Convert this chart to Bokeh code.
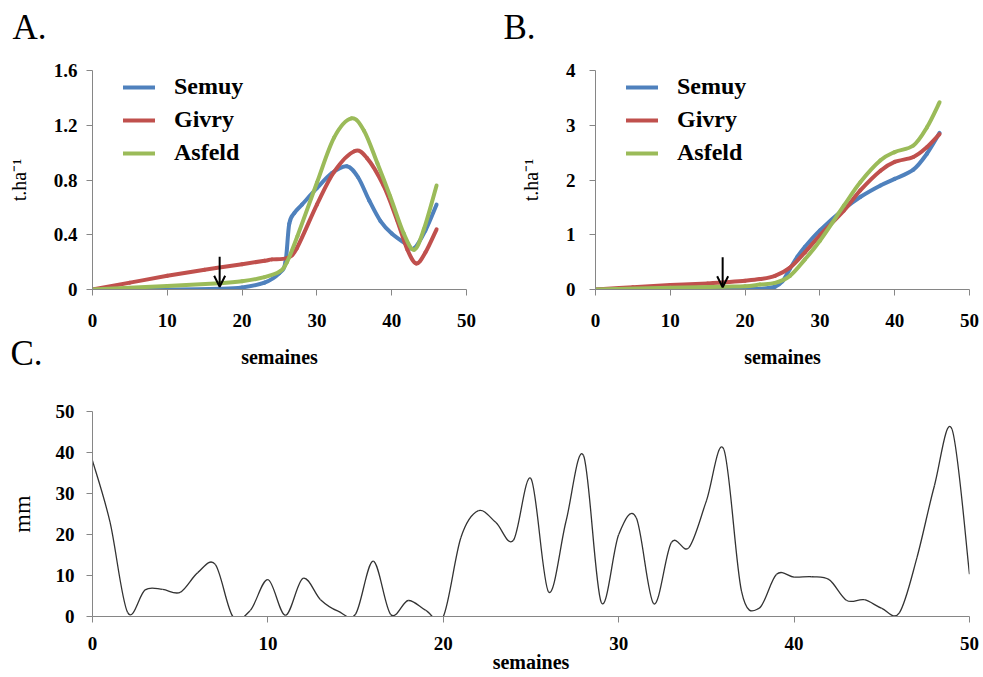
import numpy as np
from bokeh.plotting import figure
from bokeh.models import Range1d, FixedTicker, Arrow, OpenHead, Legend, LegendItem, Title
from bokeh.layouts import column, row
from bokeh.embed import file_html
from bokeh.resources import INLINE

# ---------------- data ----------------
SERIES = ["Semuy", "Givry", "Asfeld"]
COLORS = ["#4F81BD", "#C0504D", "#9BBB59"]

# Panel A (t.ha-1 per week)
a_semuy_wk = [0, 10, 17, 20, 23, 25, 25.8, 26.3, 27, 28, 30, 32, 34, 35.5, 37, 38.5, 40, 42, 43, 44.5, 46]
a_semuy = [0.0, 0.0, 0.005, 0.015, 0.05, 0.12, 0.2, 0.48, 0.56, 0.62, 0.74, 0.85, 0.9, 0.82, 0.65, 0.5, 0.41, 0.33, 0.3, 0.43, 0.62]
a_givry_wk = [0, 5, 10, 15, 20, 23, 24, 26, 27.3, 30, 32.3, 35, 36.7, 38.9, 40.7, 42.1, 43.3, 44.5, 46]
a_givry = [0.0, 0.05, 0.10, 0.145, 0.185, 0.21, 0.22, 0.23, 0.30, 0.62, 0.86, 1.01, 0.96, 0.76, 0.51, 0.29, 0.19, 0.27, 0.44]
a_asfeld_wk = [0, 10, 17, 20, 23, 25, 26, 27.4, 30, 32.3, 34.6, 36.3, 38.1, 39.8, 41.6, 43, 44.3, 46]
a_asfeld = [0.0, 0.025, 0.045, 0.06, 0.09, 0.13, 0.2, 0.39, 0.78, 1.11, 1.25, 1.16, 0.92, 0.68, 0.41, 0.29, 0.44, 0.76]

# Panel B (cumulative t.ha-1)
b_semuy_wk = [0, 10, 20, 22, 24, 25, 26, 27, 28, 30, 33.2, 35.4, 38.1, 40, 42.5, 44.3, 46]
b_semuy = [0.0, 0.0, 0.01, 0.01, 0.05, 0.15, 0.38, 0.6, 0.78, 1.08, 1.47, 1.69, 1.90, 2.02, 2.19, 2.48, 2.86]
b_givry_wk = [0, 5, 10, 15, 17, 20, 22, 24, 26, 28, 30, 33.2, 35.4, 38.1, 40, 42.5, 44.3, 46]
b_givry = [0.0, 0.04, 0.08, 0.11, 0.13, 0.16, 0.19, 0.25, 0.4, 0.68, 0.99, 1.44, 1.81, 2.17, 2.33, 2.42, 2.6, 2.84]
b_asfeld_wk = [0, 10, 17, 20, 22, 24, 26, 28, 30, 33.2, 35.4, 38.1, 40, 42.5, 44.3, 46]
b_asfeld = [0.0, 0.03, 0.05, 0.06, 0.09, 0.12, 0.25, 0.55, 0.89, 1.53, 1.96, 2.36, 2.51, 2.63, 2.96, 3.42]

# Panel C (weekly rainfall, mm)
c_weeks = list(range(0, 51))
c_rain = [38, 23, 1, 6.5, 6.6, 5.9, 10.7, 12.7, 0, 1.5,
          9.0, 0.3, 9.3, 4.1, 1.3, 0.6, 13.5, 0.5, 3.9, 1.5,
          0, 19.2, 25.8, 22.9, 18.6, 33.6, 6, 23.3, 39.2, 3.5,
          20.0, 24.1, 3.1, 18.0, 16.8, 28.2, 40.7, 6.2, 2.0, 10.3,
          9.6, 9.7, 9.0, 3.9, 4.1, 2.0, 0.9, 14.3, 31.9, 45.7, 10.3]

a_ticks = [0, 0.4, 0.8, 1.2, 1.6]
b_ticks = [0, 1, 2, 3, 4]
c_ticks = [0, 10, 20, 30, 40, 50]
x_ticks = [0, 10, 20, 30, 40, 50]
ARROW_WEEK = 17

FONT = "Liberation Serif"
AXIS_GRAY = "#868686"


def smooth_segments(xs, ys):
    """Cubic Bezier pieces through the points (Excel-like smoothed line)."""
    x = np.asarray(xs, float)
    y = np.asarray(ys, float)
    n = len(x)
    xp = np.concatenate([[x[0]], x, [x[-1]]])
    yp = np.concatenate([[y[0]], y, [y[-1]]])
    cx0 = x[:-1] + (xp[2:n + 1] - xp[0:n - 1]) / 6.0
    cy0 = y[:-1] + (yp[2:n + 1] - yp[0:n - 1]) / 6.0
    cx1 = x[1:] - (xp[3:n + 2] - xp[1:n]) / 6.0
    cy1 = y[1:] - (yp[3:n + 2] - yp[1:n]) / 6.0
    return dict(x0=x[:-1], y0=y[:-1], x1=x[1:], y1=y[1:], cx0=cx0, cy0=cy0, cx1=cx1, cy1=cy1)


def style(p, tick_size="19px", xstand=18, ystand=10):
    p.outline_line_color = None
    p.xgrid.visible = False
    p.ygrid.visible = False
    p.background_fill_color = "white"
    for ax in p.axis:
        ax.axis_line_color = AXIS_GRAY
        ax.major_tick_line_color = AXIS_GRAY
        ax.major_tick_out = 6
        ax.major_tick_in = 0
        ax.minor_tick_line_color = None
        ax.major_label_text_font = FONT
        ax.major_label_text_font_style = "bold"
        ax.major_label_text_font_size = tick_size
        ax.major_label_text_color = "black"
        ax.axis_label_text_font = FONT
        ax.axis_label_text_color = "black"
    p.xaxis.major_label_standoff = xstand
    p.yaxis.major_label_standoff = ystand


def panel_title(text, offset, standoff):
    return Title(text=text, align="left", offset=offset, vertical_align="top", standoff=standoff,
                 text_font=FONT, text_font_size="35px", text_font_style="normal", text_color="black")


TOP_SHIFT = 20   # canvases of A/B start 20px above the page top (their frames stay at y=70)


def growth_panel(width, left, right, bottom, yticks, ymax, data, arrow_y, ystand):
    p = figure(width=width, height=370 + TOP_SHIFT, x_range=Range1d(0, 50), y_range=Range1d(0, ymax),
               min_border_left=left, min_border_right=right, min_border_top=70 + TOP_SHIFT,
               min_border_bottom=bottom,
               output_backend="svg", toolbar_location=None, title=None)
    p.border_fill_color = "white"
    style(p, ystand=ystand)
    p.xaxis.ticker = FixedTicker(ticks=x_ticks)
    p.yaxis.ticker = FixedTicker(ticks=yticks)
    p.yaxis.major_label_overrides = {0: "0"}
    p.xaxis.axis_label = "semaines"
    p.xaxis.axis_label_text_font_style = "bold"
    p.xaxis.axis_label_text_font_size = "20px"
    p.xaxis.axis_label_standoff = 16
    p.yaxis.axis_label = "t.ha\u207b\u00b9"
    p.yaxis.axis_label_text_font_style = "normal"
    p.yaxis.axis_label_text_font_size = "20px"
    p.yaxis.axis_label_standoff = 21

    items = []
    for name, color, (wk, vals) in zip(SERIES, COLORS, data):
        r = p.bezier(source=smooth_segments(wk, vals), x0="x0", y0="y0", x1="x1", y1="y1",
                     cx0="cx0", cy0="cy0", cx1="cx1", cy1="cy1",
                     line_color=color, line_width=4, line_cap="round")
        items.append(LegendItem(label=name, renderers=[r]))

    leg = Legend(items=items, location=(31, 123), glyph_width=32, glyph_height=20,
                 label_standoff=19, spacing=6, padding=0, margin=0,
                 border_line_color=None, background_fill_alpha=0,
                 label_text_font=FONT, label_text_font_style="bold",
                 label_text_font_size="24px", label_text_color="black")
    p.add_layout(leg)

    p.add_layout(Arrow(x_start=ARROW_WEEK, y_start=arrow_y[0], x_end=ARROW_WEEK, y_end=arrow_y[1],
                       line_width=2, line_color="black",
                       end=OpenHead(size=11, line_width=2, line_color="black")))
    return p


pA = growth_panel(490, 92, 24, 80, a_ticks, 1.6,
                  [(a_semuy_wk, a_semuy), (a_givry_wk, a_givry), (a_asfeld_wk, a_asfeld)],
                  (0.24, 0.02), 9)
pA.add_layout(panel_title("A.", -80, 43), "above")

pB = growth_panel(493, 105, 14, 81, b_ticks, 4,
                  [(b_semuy_wk, b_semuy), (b_givry_wk, b_givry), (b_asfeld_wk, b_asfeld)],
                  (0.59, 0.04), 14)
pB.add_layout(panel_title("B.", -92, 43), "above")

top_row = row(pA, pB, styles={"margin-top": "-%dpx" % TOP_SHIFT})

# panel C overlaps the bottom strip of A/B (transparent border) so that "C." sits where it should
C_OVERLAP = 80
pC = figure(width=983, height=307 + C_OVERLAP, x_range=Range1d(0, 50), y_range=Range1d(0, 50),
            min_border_left=92, min_border_right=14, min_border_top=41 + C_OVERLAP, min_border_bottom=61,
            output_backend="svg", toolbar_location=None, title=None,
            styles={"margin-top": "-%dpx" % C_OVERLAP})
pC.border_fill_color = None
pC.border_fill_alpha = 0
style(pC, xstand=14, ystand=12)
pC.xaxis.ticker = FixedTicker(ticks=x_ticks)
pC.yaxis.ticker = FixedTicker(ticks=c_ticks)
pC.xaxis.axis_label = "semaines"
pC.xaxis.axis_label_text_font_style = "bold"
pC.xaxis.axis_label_text_font_size = "20px"
pC.xaxis.axis_label_standoff = -2
pC.yaxis.axis_label = "mm"
pC.yaxis.axis_label_text_font_style = "normal"
pC.yaxis.axis_label_text_font_size = "24px"
pC.yaxis.axis_label_standoff = 18
pC.bezier(source=smooth_segments(c_weeks, c_rain), x0="x0", y0="y0", x1="x1", y1="y1",
          cx0="cx0", cy0="cy0", cx1="cx1", cy1="cy1", line_color="#333333", line_width=1.3)
pC.add_layout(panel_title("C.", -82, 73), "above")

layout = column(top_row, pC)
open("out.html", "w").write(file_html(layout, INLINE))
